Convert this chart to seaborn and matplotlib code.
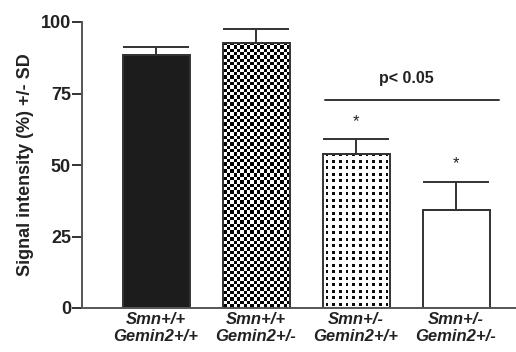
import numpy as np
import pandas as pd
import matplotlib
matplotlib.use("Agg")
import matplotlib.pyplot as plt
import seaborn as sns

# ===============================
# DATA
# ===============================
groups = ["Smn+/+\nGemin2+/+", "Smn+/+\nGemin2+/-", "Smn+/-\nGemin2+/+", "Smn+/-\nGemin2+/-"]
means = [88.5, 92.8, 53.8, 34.3]
sds = [2.6, 4.7, 5.2, 9.9]
stars = ["", "", "*", "*"]
yticks = [0, 25, 50, 75, 100]
sig_text = "p< 0.05"
sig_level = 72.7

df = pd.DataFrame({"group": groups, "mean": means, "sd": sds})

sns.set_style("ticks")
plt.rcParams["font.family"] = ["Liberation Sans", "DejaVu Sans"]

edge = "#333333"
fig = plt.figure(figsize=(5.16, 3.52), dpi=100)
ax = fig.add_axes([0.159, 0.125, 0.841, 0.8125])

sns.barplot(data=df, x="group", y="mean", hue="group", legend=False,
            palette=["#1c1c1c", "white", "white", "white"],
            width=0.67, edgecolor=edge, linewidth=1.4, errorbar=None, ax=ax)

ax.set_xlim(-0.74, 3.6)
ax.set_ylim(0, 100)

bars = ax.patches


def fill_pattern(p, kind):
    # build the fill at screen resolution so the pattern stays crisp
    x0, w, h = p.get_x(), p.get_width(), p.get_height()
    (px0, py0), (px1, py1) = ax.transData.transform([(x0, 0), (x0 + w, h)])
    nw, nh = int(round(px1 - px0)), int(round(py1 - py0))
    yy, xx = np.indices((nh, nw))
    if kind == "checker":
        cell = nw / 20.0
        img = ((np.floor(xx / cell) + np.floor(yy / cell)) % 2).astype(float)
    else:
        cell = nw / 10.0
        img = np.ones((nh, nw))
        dot = (np.abs((xx % cell) - cell / 2) < 1.3) & \
              (np.abs((yy % 6.5) - 3.25) < 1.3)
        img[dot] = 0.05
    im = ax.imshow(img, cmap="gray", vmin=0, vmax=1, extent=(x0, x0 + w, 0, h),
                   aspect="auto", interpolation="nearest", origin="lower",
                   zorder=p.get_zorder() - 0.1)
    im.set_clip_path(p)
    p.set_facecolor("none")


fill_pattern(bars[1], "checker")
fill_pattern(bars[2], "dots")

# upward-only SD error bars
centers = [b.get_x() + b.get_width() / 2 for b in bars]
ax.errorbar(centers, means, yerr=[np.zeros(len(sds)), sds], fmt="none",
            ecolor=edge, elinewidth=1.4, capsize=24, capthick=1.4, zorder=5)

for c, m, s, st in zip(centers, means, sds, stars):
    if st:
        ax.text(c, m + s + 3.5, st, ha="center", va="bottom", fontsize=12,
                color="#222222")

# significance line spanning the two Smn+/- groups
ax.plot([1.69, 3.43], [sig_level, sig_level], color=edge, lw=1.4)
ax.text(2.5, sig_level + 5, sig_text, ha="center", va="bottom",
        fontsize=11.5, fontweight="bold", color="#222222")

ax.set_xlim(-0.74, 3.6)
ax.set_ylim(0, 100)
ax.set_yticks(yticks)
ax.set_xlabel("")
ax.set_ylabel("Signal intensity (%) +/- SD", fontsize=13, fontweight="bold",
              color="#222222", labelpad=5)
ax.set_xticks(range(len(groups)))
ax.set_xticklabels(groups, fontsize=12, fontweight="bold", style="italic",
                   color="#222222", linespacing=1.15)
ax.tick_params(axis="x", length=0, pad=3)
ax.tick_params(axis="y", length=7, width=1.4, color=edge, pad=1,
               labelsize=13, labelcolor="#222222")
for lab in ax.get_yticklabels():
    lab.set_fontweight("bold")

sns.despine(ax=ax)
for sp in ["left", "bottom"]:
    ax.spines[sp].set_linewidth(1.4)
    ax.spines[sp].set_color("#555555")

fig.savefig("out.png", dpi=100)
